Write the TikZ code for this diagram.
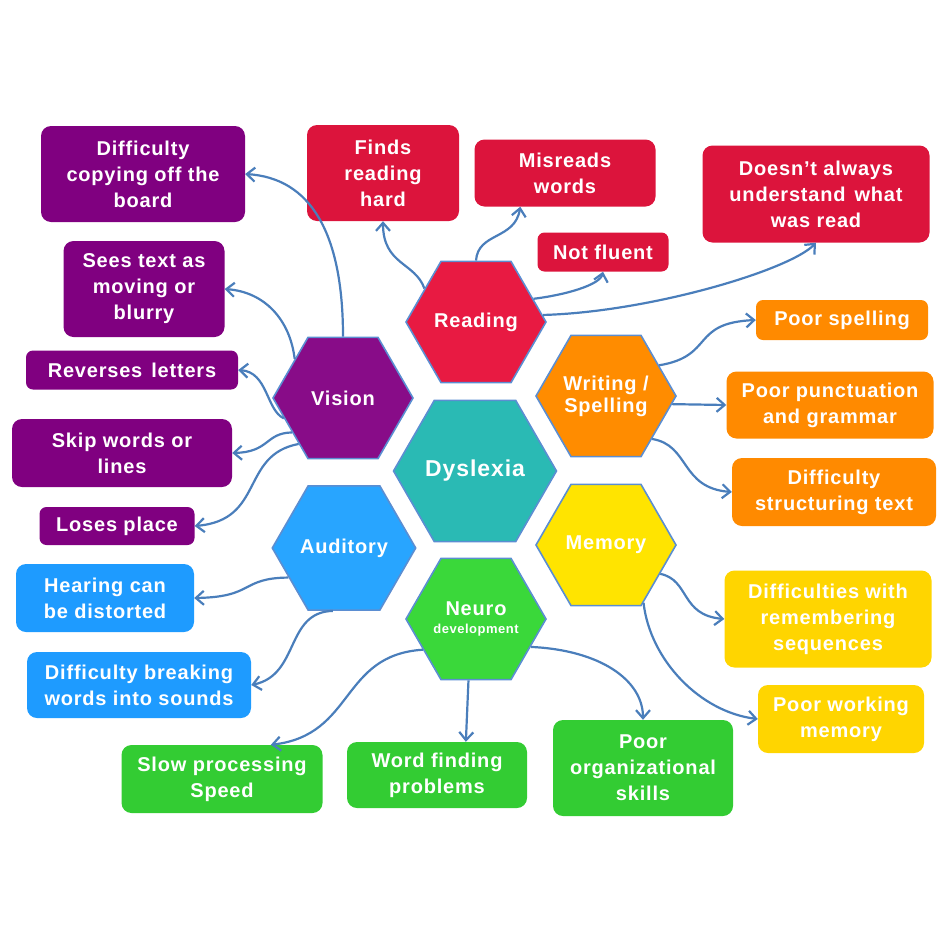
\documentclass[tikz,border=0pt]{standalone}
\usepackage{fontspec}
\setmainfont{Liberation Sans}[LetterSpace=4]
\usetikzlibrary{shapes.geometric, arrows.meta}

\definecolor{visbox}{HTML}{800080}
\definecolor{vishex}{HTML}{880C88}
\definecolor{readbox}{HTML}{DC143C}
\definecolor{readhex}{HTML}{E81A42}
\definecolor{dyshex}{HTML}{2ABAB4}
\definecolor{writebox}{HTML}{FF8A00}
\definecolor{writehex}{HTML}{FF8C00}
\definecolor{memhex}{HTML}{FFE400}
\definecolor{membox}{HTML}{FFD500}
\definecolor{audhex}{HTML}{28A5FF}
\definecolor{audbox}{HTML}{1E9BFF}
\definecolor{neuhex}{HTML}{3AD83A}
\definecolor{neubox}{HTML}{33CC33}
\definecolor{hexline}{HTML}{5B8ED2}
\definecolor{arrowline}{HTML}{4A7EBB}

\begin{document}
\begin{tikzpicture}[x=1pt, y=-1pt,
  hexa/.style={regular polygon, regular polygon sides=6, minimum size=140pt, inner sep=0pt, draw=hexline, line width=1.6pt, text=white, font=\fontsize{20}{22}\selectfont\bfseries, align=center},
  box/.style={rounded corners=10pt, inner sep=0pt, text=white, font=\fontsize{20}{26}\selectfont\bfseries, align=center},
  arrow/.style={-{Straight Barb[length=8pt,width=14pt]}, line width=2.2pt, draw=arrowline}]

\useasboundingbox (0,0) rectangle (940,940);

%hexagons in the middle
\node (dys) [hexa, fill=dyshex, minimum size=152pt, font=\fontsize{23}{24}\selectfont\bfseries] at (475,471) {Dyslexia};
\node (vis) [hexa, fill=vishex] at (343,398) {Vision};
\node (read) [hexa, fill=readhex] at (476,322) {Reading};
\node (write) [hexa, fill=writehex] at (606,396) {Writing /\\Spelling};
\node (mem) [hexa, fill=memhex] at (606,545) {Memory};
\node (aud) [hexa, fill=audhex] at (344,548) {Auditory};
\node (neu) [hexa, fill=neuhex] at (476,619) {Neuro\\[-4pt]{\fontsize{13}{14}\selectfont development}};

%vision boxes
\node (vcopy) [box, fill=visbox, minimum width=204pt, minimum height=96pt] at (143,174) {Difficulty\\copying off the\\board};
\node (vsees) [box, fill=visbox, minimum width=161pt, minimum height=96pt] at (144,289) {Sees text as\\moving or\\blurry};
\node (vrev) [box, fill=visbox, minimum width=212pt, minimum height=39pt, rounded corners=7pt] at (132,370) {Reverses\hspace{9pt}letters};
\node (vskip) [box, fill=visbox, minimum width=220pt, minimum height=68pt] at (122,453) {Skip words or\\lines};
\node (vlose) [box, fill=visbox, minimum width=155pt, minimum height=38pt, rounded corners=7pt] at (117,526) {Loses place};

%reading boxes
\node (rfind) [box, fill=readbox, minimum width=152pt, minimum height=96pt] at (383,173) {Finds\\reading\\hard};
\node (rmis) [box, fill=readbox, minimum width=181pt, minimum height=67pt] at (565,173) {Misreads\\words};
\node (rflu) [box, fill=readbox, minimum width=131pt, minimum height=39pt, rounded corners=7pt] at (603,252) {Not fluent};
\node (rund) [box, fill=readbox, minimum width=227pt, minimum height=97pt] at (816,194) {Doesn’t always\\understand\hspace{9pt}what\\was read};

%writing boxes
\node (wspell) [box, fill=writebox, minimum width=172pt, minimum height=40pt, rounded corners=7pt] at (842,320) {Poor spelling};
\node (wpunc) [box, fill=writebox, minimum width=207pt, minimum height=67pt] at (830,405) {Poor punctuation\\and grammar};
\node (wstruc) [box, fill=writebox, minimum width=204pt, minimum height=68pt] at (834,492) {Difficulty\\structuring text};

%memory boxes
\node (mseq) [box, fill=membox, minimum width=207pt, minimum height=97pt] at (828,619) {Difficulties with\\remembering\\sequences};
\node (mwork) [box, fill=membox, minimum width=166pt, minimum height=68pt] at (841,719) {Poor working\\memory};

%auditory boxes
\node (ahear) [box, fill=audbox, minimum width=178pt, minimum height=68pt] at (105,598) {Hearing can\\be distorted};
\node (abreak) [box, fill=audbox, minimum width=224pt, minimum height=66pt] at (139,685) {Difficulty breaking\\words into sounds};

%neuro boxes
\node (nslow) [box, fill=neubox, minimum width=201pt, minimum height=68pt] at (222,779) {Slow processing\\Speed};
\node (nword) [box, fill=neubox, minimum width=180pt, minimum height=66pt] at (437,775) {Word finding\\problems};
\node (norg) [box, fill=neubox, minimum width=180pt, minimum height=96pt] at (643,768) {Poor\\organizational\\skills};

%arrows from vision
\draw[arrow] (vis.90) .. controls (343,232) and (310,178) .. (vcopy.east);
\draw[arrow] (vis.141) .. controls (290,320) and (265,292) .. (vsees.east);
\draw[arrow] (vis.199) .. controls (266,410) and (268,372) .. (vrev.east);
\draw[arrow] (vis.214) .. controls (265,433) and (270,452) .. (vskip.east);
\draw[arrow] (vis.226) .. controls (240,455) and (265,520) .. (vlose.east);

%arrows from reading
\draw[arrow] (read.147) .. controls (415,262) and (383,265) .. (rfind.south);
\draw[arrow] (read.90) .. controls (478,232) and (515,240) .. (rmis.217);
\draw[arrow] (read.22) .. controls (565,295) and (600,285) .. (rflu.south);
\draw[arrow] (read.6) .. controls (650,312) and (790,270) .. (rund.south);

%arrows from writing
\draw[arrow] (write.30) .. controls (715,356) and (690,323) .. (wspell.west);
\draw[arrow] (write.353) -- (wpunc.west);
\draw[arrow] (write.317) .. controls (690,445) and (680,488) .. (wstruc.west);

%arrows from memory
\draw[arrow] (mem.332) .. controls (690,580) and (680,615) .. (mseq.west);
\draw[arrow] (mem.303) .. controls (650,660) and (700,712) .. (mwork.west);

%arrows from auditory
\draw[arrow] (aud.208) .. controls (240,578) and (255,597) .. (ahear.east);
\draw[arrow] (aud.260) .. controls (285,612) and (300,675) .. (abreak.east);

%arrows from neuro
\draw[arrow] (neu.210) .. controls (340,655) and (355,735) .. (nslow.35);
\draw[arrow] (neu.263) -- (nword.49);
\draw[arrow] (neu.333) .. controls (600,650) and (643,680) .. (norg.north);

\end{tikzpicture}
\end{document}
